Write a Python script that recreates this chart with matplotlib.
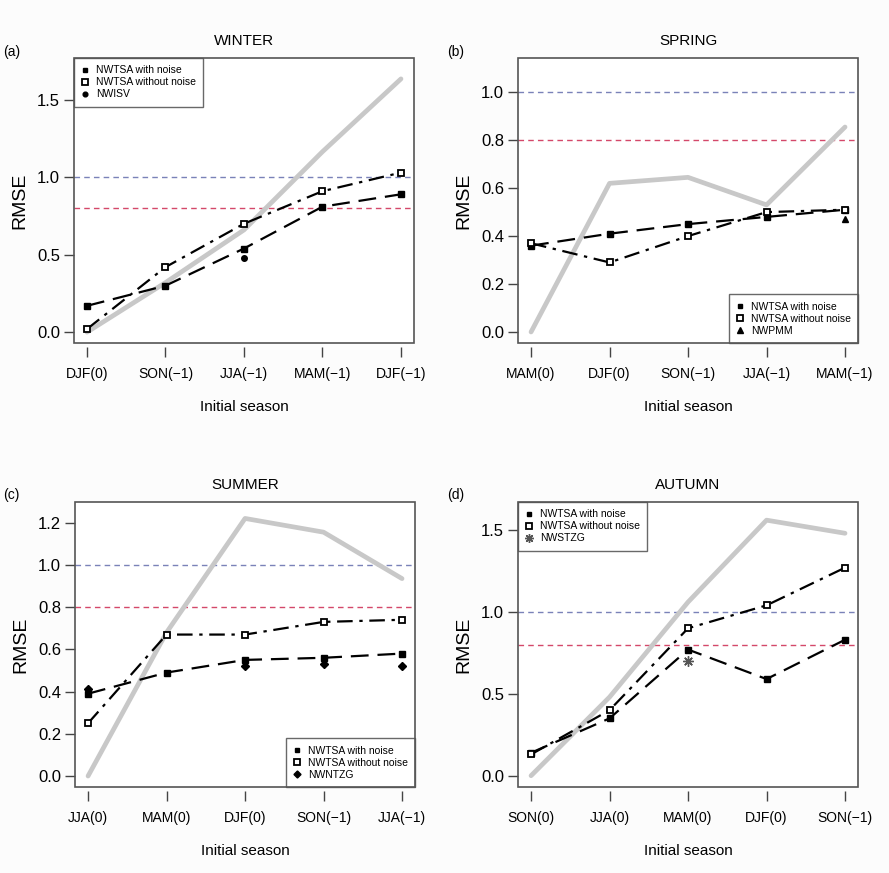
import numpy as np
import matplotlib.pyplot as plt
from matplotlib.patches import Rectangle

plt.rcParams['font.family'] = ['Liberation Sans', 'DejaVu Sans']

# ----------------------
# Data
# ----------------------
titles = ["WINTER", "SPRING", "SUMMER", "AUTUMN"]
panel_tags = ["(a)", "(b)", "(c)", "(d)"]

labels_winter = ["DJF(0)", "SON(\u22121)", "JJA(\u22121)", "MAM(\u22121)", "DJF(\u22121)"]
labels_spring = ["MAM(0)", "DJF(0)", "SON(\u22121)", "JJA(\u22121)", "MAM(\u22121)"]
labels_summer = ["JJA(0)", "MAM(0)", "DJF(0)", "SON(\u22121)", "JJA(\u22121)"]
labels_autumn = ["SON(0)", "JJA(0)", "MAM(0)", "DJF(0)", "SON(\u22121)"]

noise_winter = [0.17, 0.30, 0.54, 0.81, 0.89]
nonoise_winter = [0.02, 0.42, 0.70, 0.91, 1.03]
grey_winter = [0.00, 0.32, 0.66, 1.165, 1.635]
ref_winter_x = [3]
ref_winter_y = [0.48]

noise_spring = [0.36, 0.41, 0.45, 0.48, 0.51]
nonoise_spring = [0.37, 0.29, 0.40, 0.50, 0.51]
grey_spring = [0.00, 0.62, 0.645, 0.53, 0.855]
ref_spring_x = [5]
ref_spring_y = [0.47]

noise_summer = [0.39, 0.49, 0.55, 0.56, 0.58]
nonoise_summer = [0.25, 0.67, 0.67, 0.73, 0.74]
grey_summer = [0.00, 0.68, 1.22, 1.155, 0.935]
ref_summer_x = [1, 3, 4, 5]
ref_summer_y = [0.41, 0.52, 0.53, 0.52]

noise_autumn = [0.14, 0.35, 0.77, 0.59, 0.83]
nonoise_autumn = [0.13, 0.40, 0.90, 1.04, 1.27]
grey_autumn = [0.00, 0.48, 1.06, 1.56, 1.48]
ref_autumn_x = [3]
ref_autumn_y = [0.70]

ref_names = ["NWISV", "NWPMM", "NWNTZG", "NWSTZG"]
ref_markers = ["o", "^", "D", (8, 2, 0)]
ref_sizes = [4, 5, 4.2, 7.5]
ref_colors = ["black", "black", "black", "#555555"]

yticks_all = [[0.0, 0.5, 1.0, 1.5], [0.0, 0.2, 0.4, 0.6, 0.8, 1.0],
              [0.0, 0.2, 0.4, 0.6, 0.8, 1.0, 1.2], [0.0, 0.5, 1.0, 1.5]]
ylims = [(-0.07, 1.77), (-0.046, 1.143), (-0.052, 1.298), (-0.069, 1.671)]
legend_locs = ["upper left", "lower right", "lower right", "upper left"]

# ----------------------
# Figure
# ----------------------
fig = plt.figure(figsize=(8.89, 8.73), dpi=100)
fig.patch.set_facecolor('#fcfcfc')
positions = [[0.0832, 0.6071, 0.3825, 0.3265], [0.5827, 0.6071, 0.3825, 0.3265],
             [0.0844, 0.0985, 0.3825, 0.3265], [0.5827, 0.0985, 0.3825, 0.3265]]
tag_pos = [(0.004, 0.940), (0.503, 0.940), (0.004, 0.433), (0.503, 0.433)]

labels_all = [labels_winter, labels_spring, labels_summer, labels_autumn]
noise_all = [noise_winter, noise_spring, noise_summer, noise_autumn]
nonoise_all = [nonoise_winter, nonoise_spring, nonoise_summer, nonoise_autumn]
grey_all = [grey_winter, grey_spring, grey_summer, grey_autumn]
refx_all = [ref_winter_x, ref_spring_x, ref_summer_x, ref_autumn_x]
refy_all = [ref_winter_y, ref_spring_y, ref_summer_y, ref_autumn_y]

x = np.arange(1, 6)
for i in range(4):
    ax = fig.add_axes(positions[i])
    ax.set_facecolor('white')
    ax.axhline(1.0, color='#7a82b8', lw=1, ls=(0, (4, 3)), zorder=1)
    ax.axhline(0.8, color='#d4486a', lw=1, ls=(0, (4, 3)), zorder=1)
    ax.plot(x, grey_all[i], color='#c8c8c8', lw=3.4, zorder=2, solid_capstyle='round')
    h1, = ax.plot(x, noise_all[i], color='black', lw=1.6, ls=(0, (8, 4)),
                  marker='s', ms=3.8, zorder=3)
    h2, = ax.plot(x, nonoise_all[i], color='black', lw=1.6, ls=(0, (7, 3, 1.5, 3)),
                  marker='s', ms=4.8, mfc='white', mec='black', mew=1.3, zorder=4)
    h3, = ax.plot(refx_all[i], refy_all[i], ls='none', color=ref_colors[i],
                  marker=ref_markers[i], ms=ref_sizes[i], mew=1, zorder=5)

    ax.set_xlim(0.834, 5.166)
    ax.set_ylim(*ylims[i])
    ax.set_xticks(x)
    ax.set_xticklabels(labels_all[i], fontsize=11)
    ax.set_yticks(yticks_all[i])
    ax.set_yticklabels(["%.1f" % v for v in yticks_all[i]], fontsize=12)
    ax.tick_params(axis='both', direction='out', length=7, width=1, color='#444444')
    ax.tick_params(axis='x', pad=7)
    ax.tick_params(axis='y', pad=3)
    for s in ax.spines.values():
        s.set_visible(False)
    ax.spines['bottom'].set_position(('outward', 3))
    ax.add_patch(Rectangle((0, 0), 1, 1, transform=ax.transAxes, fill=False,
                           edgecolor='#555555', lw=1.2, clip_on=False, zorder=10))

    ax.set_ylabel("RMSE", fontsize=14, labelpad=6)
    ax.set_xlabel("Initial season", fontsize=11, labelpad=14)
    ax.set_title(titles[i], fontsize=11, pad=9)
    fig.text(tag_pos[i][0], tag_pos[i][1], panel_tags[i], fontsize=10,
             ha='left', va='center')

    leg = ax.legend([h1, h2, h3], ["NWTSA with noise", "NWTSA without noise", ref_names[i]],
                    loc=legend_locs[i], fontsize=7.5, frameon=True, fancybox=False,
                    borderaxespad=0, handlelength=0.8, handletextpad=0.6,
                    labelspacing=0.2, borderpad=0.7, markerscale=0.85)
    leg.get_frame().set_edgecolor('#444444')
    leg.get_frame().set_linewidth(1)
    for lh in leg.get_lines():
        lh.set_linestyle('none')

fig.savefig("out.png", dpi=100, facecolor=fig.get_facecolor())
